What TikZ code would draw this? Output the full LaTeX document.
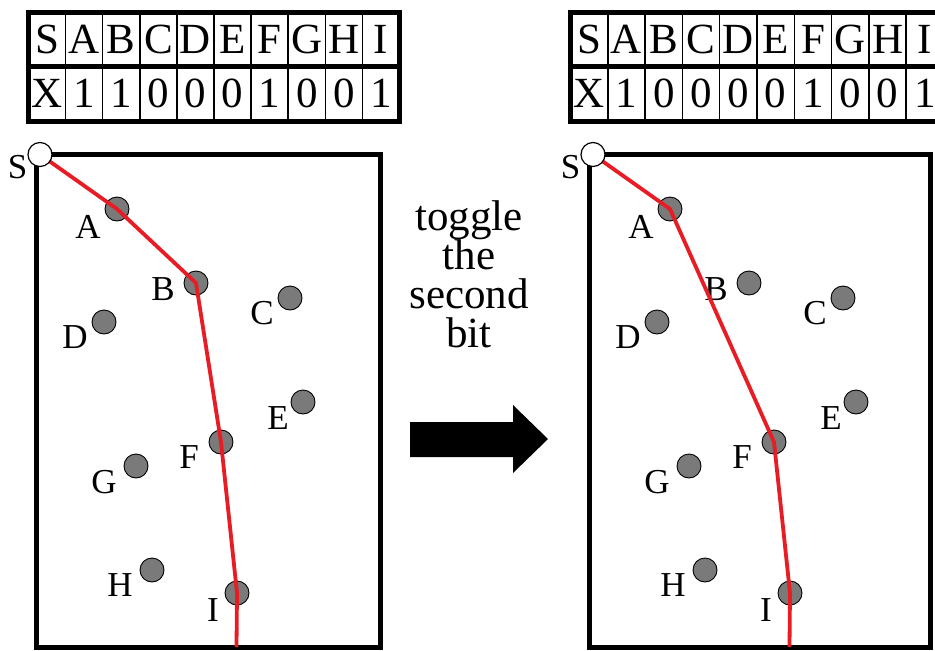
\documentclass[tikz,border=0pt]{standalone}
\usepackage{fontspec}
\setmainfont{Liberation Serif}
\definecolor{pathred}{RGB}{232,28,36}
\definecolor{dotgray}{RGB}{122,122,122}
\tikzset{
  graydot/.style={circle,draw=black,line width=0.9pt,fill=dotgray,minimum size=24pt,inner sep=0pt},
  startdot/.style={circle,draw=black,line width=1.2pt,fill=white,minimum size=24pt,inner sep=0pt},
  lbl/.style={font=\fontsize{35}{35}\selectfont,inner sep=0pt},
  tcell/.style={font=\fontsize{43}{43}\selectfont,inner sep=0pt},
  toggletext/.style={font=\fontsize{43}{43}\selectfont,inner sep=0pt,anchor=base},
  panelbox/.style={draw=black,line width=5pt},
  tableouter/.style={draw=black,line width=5pt},
  tableinner/.style={draw=black,line width=1.5pt},
  redpath/.style={draw=pathred,line width=3.8pt,line join=round},
}
% #1 prefix, #2 left x, #3 cell width, #4 bits
\newcommand\drawbittable[4]{%
  \foreach \k in {1,...,9}
    \draw[tableinner] ({#2+\k*#3},12.5) -- ({#2+\k*#3},121.5);
  \draw[tableouter] (#2,66.5) -- ({#2+10*#3},66.5);
  \draw[tableouter] (#2,12.5) rectangle ({#2+10*#3},121.5);
  \foreach \h [count=\k from 0] in {S,A,B,C,D,E,F,G,H,I}
    \node[tcell] (#1h\k) at ({#2+(\k+0.5)*#3},39) {\h};
  \foreach \b [count=\k from 0] in {#4}
    \node[tcell] (#1b\k) at ({#2+(\k+0.5)*#3},93) {\b};
}
% #1 prefix, #2 xshift, #3 box right edge (unshifted)
\newcommand\drawpanel[3]{%
  \begin{scope}[xshift=#2pt]
    \draw[panelbox] (36.5,154.5) rectangle (#3,647);
    \node[graydot] (#1A) at (117,209) {};
    \node[graydot] (#1B) at (196,283) {};
    \node[graydot] (#1C) at (290,298) {};
    \node[graydot] (#1D) at (104,322) {};
    \node[graydot] (#1E) at (303,402) {};
    \node[graydot] (#1F) at (221,442) {};
    \node[graydot] (#1G) at (136,466) {};
    \node[graydot] (#1H) at (152,570) {};
    \node[graydot] (#1I) at (237,593) {};
    \node[lbl] (#1lA) at (88,227) {A};
    \node[lbl] (#1lB) at (163,289) {B};
    \node[lbl] (#1lC) at (262,313) {C};
    \node[lbl] (#1lD) at (75,337) {D};
    \node[lbl] (#1lE) at (278,418) {E};
    \node[lbl] (#1lF) at (189,457) {F};
    \node[lbl] (#1lG) at (104,482) {G};
    \node[lbl] (#1lH) at (120,585) {H};
    \node[lbl] (#1lI) at (213,610) {I};
    \node[lbl] (#1lS) at (17.5,167) {S};
    \coordinate (#1S) at (40,154.5);
    \coordinate (#1end) at (236.5,647);
  \end{scope}
}
\begin{document}
\begin{tikzpicture}[x=1pt,y=-1pt]
  \useasboundingbox (0,0) rectangle (935,651);
  \clip (0,0) rectangle (935,651);
  \fill[white] (0,0) rectangle (935,651);
  % tables
  \drawbittable{L}{28.5}{37.1}{X,1,1,0,0,0,1,0,0,1}
  \drawbittable{R}{570.5}{37.3}{X,1,0,0,0,0,1,0,0,1}
  % panels
  \drawpanel{L}{0}{380}
  \drawpanel{R}{553}{377.5}
  % paths
  \draw[redpath] (LS) -- (LA.center) -- (LB.center) -- (LF.center) -- (LI.center) -- (Lend);
  \draw[redpath] (RS) -- (RA.center) -- (RF.center) -- (RI.center) -- (Rend);
  % start dots on top
  \node[startdot] (LSdot) at (LS) {};
  \node[startdot] (RSdot) at (RS) {};
  % middle text and arrow
  \node[toggletext] (t1) at (469,230) {toggle};
  \node[toggletext] (t2) at (469,269) {the};
  \node[toggletext] (t3) at (469,308) {second};
  \node[toggletext] (t4) at (469,347) {bit};
  \fill[black] (410,422) -- (513,422) -- (513,405) -- (548,439) -- (513,473) -- (513,457) -- (410,457) -- cycle;
\end{tikzpicture}
\end{document}
